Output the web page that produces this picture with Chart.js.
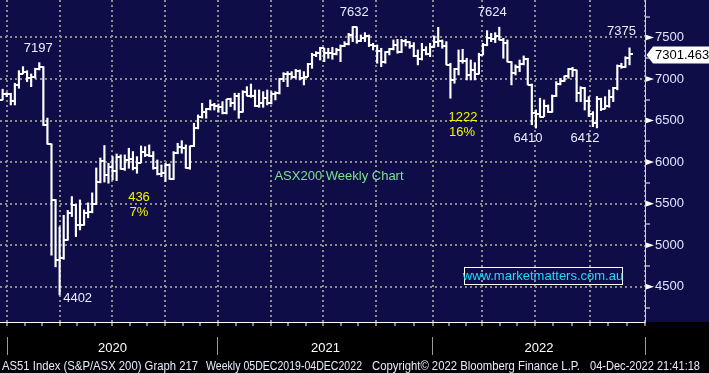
<!DOCTYPE html>
<html>
<head>
<meta charset="utf-8">
<script src="https://cdn.jsdelivr.net/npm/chart.js@4.4.0/dist/chart.umd.min.js"></script>
<style>
  html, body { margin: 0; padding: 0; background: #000; }
</style>
</head>
<body>
<canvas id="asxChart" width="709" height="373"></canvas>
<script>
// ASX200 weekly bars, week 1 = 13 Dec 2019 ... week 156 = 2 Dec 2022
const opens = [
  6700, 6750, 6817, 6821, 6740, 6929, 7065, 7090, 7017, 7022,
  7125, 7139, 6441, 6217, 5539, 4817, 4842, 5068, 5387, 5488,
  5242, 5245, 5391, 5405, 5498, 5755, 6010, 5847, 5942, 5897,
  6066, 5914, 6026, 6035, 5930, 5994, 6127, 6087, 6074, 5926,
  5858, 5866, 5966, 5794, 6107, 6186, 6174, 5926, 6190, 6405,
  6539, 6601, 6635, 6683, 6675, 6664, 6587, 6757, 6715, 6800,
  6607, 6841, 6800, 6793, 6673, 6711, 6767, 6708, 6824, 6829,
  6996, 7063, 7061, 7025, 7095, 7015, 7030, 7179, 7295, 7312,
  7369, 7308, 7308, 7304, 7348, 7394, 7420, 7530, 7628, 7460,
  7488, 7523, 7406, 7403, 7342, 7200, 7320, 7363, 7415, 7324,
  7457, 7443, 7396, 7279, 7241, 7353, 7304, 7387, 7445, 7453,
  7393, 7174, 6988, 7120, 7217, 7221, 7049, 7110, 7064, 7295,
  7406, 7499, 7478, 7523, 7473, 7435, 7205, 7075, 7146, 7182,
  7238, 6932, 6591, 6578, 6548, 6675, 6605, 6792, 6945, 6975,
  7033, 7115, 7105, 6828, 6894, 6739, 6574, 6474, 6762, 6645,
  6677, 6786, 6892, 7158, 7142, 7259
];
const highs = [
  6770, 6877, 6836, 6829, 6949, 7101, 7149, 7100, 7061, 7130,
  7197, 7150, 6530, 6220, 5550, 5220, 5360, 5420, 5585, 5490,
  5545, 5425, 5510, 5630, 5930, 6050, 6200, 5987, 6066, 6098,
  6087, 6087, 6167, 6127, 6066, 6195, 6186, 6207, 6127, 6026,
  5966, 5986, 5978, 6127, 6227, 6258, 6207, 6195, 6468, 6568,
  6708, 6648, 6748, 6708, 6700, 6728, 6757, 6770, 6829, 6829,
  6860, 6908, 6940, 6868, 6868, 6848, 6868, 6848, 6848, 7009,
  7077, 7089, 7089, 7117, 7109, 7089, 7189, 7310, 7330, 7382,
  7370, 7370, 7382, 7370, 7410, 7450, 7550, 7632, 7628, 7530,
  7558, 7530, 7430, 7410, 7370, 7330, 7370, 7470, 7478, 7478,
  7478, 7450, 7438, 7350, 7430, 7390, 7430, 7518, 7622, 7470,
  7450, 7190, 7129, 7350, 7358, 7250, 7229, 7197, 7310, 7430,
  7582, 7550, 7558, 7624, 7490, 7470, 7209, 7170, 7229, 7278,
  7250, 6940, 6628, 6769, 6748, 6688, 6808, 6969, 7009, 7037,
  7129, 7141, 7109, 6908, 6900, 6788, 6608, 6790, 6770, 6788,
  6868, 6900, 7170, 7190, 7269, 7375
];
const lows = [
  6690, 6748, 6788, 6688, 6688, 6889, 7061, 6969, 6908, 7010,
  7109, 6440, 6215, 4880, 4740, 4402, 4830, 5060, 5345, 5104,
  5184, 5240, 5330, 5390, 5490, 5750, 5760, 5746, 5786, 5777,
  5914, 5900, 5926, 5906, 5866, 5990, 6066, 6066, 5914, 5846,
  5825, 5766, 5794, 5790, 6100, 6107, 5926, 5914, 6186, 6400,
  6530, 6528, 6627, 6627, 6600, 6580, 6580, 6668, 6627, 6528,
  6600, 6796, 6780, 6668, 6660, 6660, 6688, 6700, 6748, 6820,
  6969, 6908, 7009, 7009, 6989, 6929, 7029, 7129, 7269, 7229,
  7209, 7250, 7238, 7290, 7209, 7390, 7410, 7450, 7430, 7450,
  7450, 7390, 7350, 7190, 7149, 7190, 7290, 7350, 7310, 7317,
  7398, 7370, 7269, 7170, 7229, 7290, 7269, 7380, 7390, 7370,
  7170, 6769, 6949, 7049, 7190, 6989, 6989, 6989, 7060, 7290,
  7400, 7450, 7438, 7470, 7250, 7205, 6929, 7049, 7089, 7170,
  6929, 6450, 6410, 6540, 6548, 6596, 6600, 6790, 6929, 6970,
  7009, 7029, 6728, 6728, 6627, 6548, 6427, 6412, 6620, 6640,
  6660, 6728, 6870, 7129, 7140, 7170
];
const closes = [
  6750, 6817, 6821, 6740, 6929, 7065, 7090, 7017, 7022, 7125,
  7139, 6441, 6217, 5539, 4817, 4842, 5068, 5387, 5488, 5242,
  5245, 5391, 5405, 5498, 5755, 6010, 5847, 5942, 5897, 6066,
  5914, 6026, 6035, 5930, 5994, 6127, 6087, 6074, 5926, 5858,
  5866, 5966, 5794, 6107, 6186, 6174, 5926, 6190, 6405, 6539,
  6601, 6635, 6683, 6675, 6664, 6587, 6757, 6715, 6800, 6607,
  6841, 6800, 6793, 6673, 6711, 6767, 6708, 6824, 6829, 6996,
  7063, 7061, 7025, 7095, 7015, 7030, 7179, 7295, 7312, 7369,
  7308, 7308, 7304, 7348, 7394, 7420, 7530, 7628, 7460, 7488,
  7523, 7406, 7403, 7342, 7200, 7320, 7363, 7415, 7324, 7457,
  7443, 7396, 7279, 7241, 7353, 7304, 7387, 7445, 7453, 7393,
  7174, 6988, 7120, 7217, 7221, 7049, 7110, 7064, 7295, 7406,
  7499, 7478, 7523, 7473, 7435, 7205, 7075, 7146, 7182, 7238,
  6932, 6591, 6578, 6548, 6675, 6605, 6792, 6945, 6975, 7033,
  7115, 7105, 6828, 6894, 6739, 6574, 6474, 6762, 6645, 6677,
  6786, 6892, 7158, 7142, 7259, 7301.463
];
const weeks = closes.map((_, i) => i + 1);

// axis ticks (in weeks for x)
const quarterWeeks = [3.1, 16.1, 28.9, 41.9, 54.9, 67.9, 80.7, 93.7, 107.7, 119.8, 132.8, 146.3];
const yearTicks = [3.1, 29.0, 54.9, 81.3, 107.7, 133.75, 159.8];
const yearLabels = ['2020', '2021', '2022'];
const yTickValues = [4250, 4500, 4750, 5000, 5250, 5500, 5750, 6000, 6250, 6500, 6750, 7000, 7250, 7500, 7750];

const peakLabels = [
  { text: '7197', week: 11, value: 7197, dx: -1, dy: -14 },
  { text: '4402', week: 16, value: 4402, dx: 18, dy: 4 },
  { text: '7632', week: 88, value: 7632, dx: 1.5, dy: -14.5 },
  { text: '7624', week: 124, value: 7624, dx: -7, dy: -14.5 },
  { text: '6410', week: 133, value: 6410, dx: -8, dy: 10.5 },
  { text: '6412', week: 148, value: 6412, dx: -12, dy: 10.5 },
  { text: '7375', week: 156, value: 7375, dx: -8, dy: -16.5 }
];

const X_MIN = 1.35, X_MAX = 159.8;
const Y_MIN = 4076, Y_MAX = 7951;
const NAVY = '#0f0d48';
const GRID = '#8c8c8c';
const FONT = '"Liberation Sans", Arial, sans-serif';

// monthly ticks: thirds between quarter lines
const monthTicks = [];
quarterWeeks.forEach((q, i) => {
  const next = i < quarterWeeks.length - 1 ? quarterWeeks[i + 1] : X_MAX;
  const d = (next - q) / 3;
  monthTicks.push(q, q + d, q + 2 * d);
});
monthTicks.push(X_MAX);

function noPadding(axis) {
  axis.paddingLeft = 0;
  axis.paddingRight = 0;
  axis.paddingTop = 0;
  axis.paddingBottom = 0;
}

function tickImage(side) {
  const c = document.createElement('canvas');
  c.width = 6; c.height = 2;
  const g = c.getContext('2d');
  g.fillStyle = '#ffffff';
  g.fillRect(side === 'left' ? 0 : 3, 0, 3, 2);
  return c;
}

const backdrop = {
  id: 'backdrop',
  beforeDraw(chart) {
    const { ctx, chartArea } = chart;
    ctx.save();
    ctx.fillStyle = '#000000';
    ctx.fillRect(0, 0, chart.width, chart.height);
    ctx.fillStyle = NAVY;
    ctx.fillRect(0, 0, chart.width, chartArea.bottom);
    ctx.restore();
  }
};

const overlays = {
  id: 'overlays',
  afterDraw(chart) {
    const { ctx, chartArea, scales } = chart;
    const xs = scales.x, ys = scales.y;
    ctx.save();

    // triangles on major y ticks
    ctx.fillStyle = '#ffffff';
    yTickValues.filter(v => v % 500 === 0).forEach(v => {
      const y = ys.getPixelForValue(v);
      ctx.beginPath();
      ctx.moveTo(chartArea.right + 1, y - 2.8);
      ctx.lineTo(chartArea.right + 9, y);
      ctx.lineTo(chartArea.right + 1, y + 2.8);
      ctx.closePath();
      ctx.fill();
    });

    // peak / trough labels
    ctx.font = '13px ' + FONT;
    ctx.textAlign = 'center';
    ctx.textBaseline = 'middle';
    ctx.fillStyle = '#e8eeff';
    peakLabels.forEach(p => {
      ctx.fillText(p.text, xs.getPixelForValue(p.week) + p.dx, ys.getPixelForValue(p.value) + p.dy);
    });

    // move annotations
    ctx.fillStyle = '#f4f400';
    ctx.fillText('436', 139, 197);
    ctx.fillText('7%', 139, 212);
    ctx.fillText('1222', 463, 117);
    ctx.fillText('16%', 462, 132);

    ctx.fillStyle = '#7ee08c';
    ctx.fillText('ASX200 Weekly Chart', 339, 176);

    // website box
    ctx.strokeStyle = '#ffffff';
    ctx.lineWidth = 1;
    ctx.strokeRect(464.5, 267.5, 158, 17);
    ctx.fillStyle = '#1fdcf5';
    ctx.fillText('www.marketmatters.com.au', 543, 276.5);

    // last value tag
    const last = closes[closes.length - 1];
    const ty = ys.getPixelForValue(last);
    ctx.fillStyle = '#ffffff';
    ctx.beginPath();
    ctx.moveTo(chartArea.right + 1.5, ty + 1);
    ctx.lineTo(chartArea.right + 8, ty - 7.5);
    ctx.lineTo(chart.width, ty - 7.5);
    ctx.lineTo(chart.width, ty + 9.5);
    ctx.lineTo(chartArea.right + 8, ty + 9.5);
    ctx.closePath();
    ctx.fill();
    ctx.fillStyle = '#000000';
    ctx.textAlign = 'left';
    ctx.fillText(last.toFixed(3), chartArea.right + 10, ty + 1.5);

    // footer line
    const parts = [
      { text: 'AS51 Index (S&P/ASX 200) Graph 217', x0: 2, x1: 198 },
      { text: 'Weekly 05DEC2019-04DEC2022', x0: 206, x1: 362 },
      { text: 'Copyright\u00A9 2022 Bloomberg Finance L.P.', x0: 372, x1: 580 },
      { text: '04-Dec-2022 21:41:18', x0: 590, x1: 700 }
    ];
    ctx.font = '12px ' + FONT;
    ctx.textBaseline = 'alphabetic';
    ctx.fillStyle = '#e6ecff';
    parts.forEach(p => {
      const w = ctx.measureText(p.text).width;
      ctx.save();
      ctx.translate(p.x0, 370);
      ctx.scale((p.x1 - p.x0) / w, 1);
      ctx.fillText(p.text, 0, 0);
      ctx.restore();
    });
    ctx.restore();
  }
};

new Chart(document.getElementById('asxChart').getContext('2d'), {
  type: 'bar',
  data: {
    datasets: [
      {
        type: 'bar',
        data: weeks.map((w, i) => ({ x: w, y: [lows[i], highs[i]] })),
        backgroundColor: '#ffffff',
        borderWidth: 0,
        barThickness: 1.5
      },
      {
        type: 'line',
        data: weeks.map((w, i) => ({ x: w, y: opens[i] })),
        showLine: false,
        pointStyle: tickImage('left'),
        pointRadius: 3
      },
      {
        type: 'line',
        data: weeks.map((w, i) => ({ x: w, y: closes[i] })),
        showLine: false,
        pointStyle: tickImage('right'),
        pointRadius: 3
      }
    ]
  },
  options: {
    responsive: false,
    animation: false,
    events: [],
    layout: { padding: 0, autoPadding: false },
    plugins: { legend: { display: false }, tooltip: { enabled: false } },
    scales: {
      x: {
        type: 'linear', min: X_MIN, max: X_MAX, offset: false, position: 'bottom', weight: 0,
        afterBuildTicks: axis => { axis.ticks = monthTicks.map(v => ({ value: v })); },
        afterFit: axis => { axis.height = 15; noPadding(axis); },
        ticks: { display: false, autoSkip: false },
        grid: {
          offset: false,
          color: c => (c.index % 3 === 0 ? GRID : 'transparent'),
          lineWidth: 2,
          tickColor: '#ffffff', tickLength: 4, tickWidth: 1
        },
        border: { display: true, color: '#ffffff', width: 1, dash: [2, 3] }
      },
      x2: {
        type: 'linear', min: X_MIN, max: X_MAX, offset: false, position: 'bottom', weight: 1,
        afterBuildTicks: axis => { axis.ticks = yearTicks.map(v => ({ value: v })); },
        afterFit: axis => { axis.height = 36; noPadding(axis); },
        ticks: {
          autoSkip: false, maxRotation: 0, padding: -14, color: '#ffffff',
          font: { family: FONT, size: 13 },
          callback: (v, i) => (i % 2 === 1 ? yearLabels[(i - 1) / 2] : '')
        },
        grid: {
          offset: false, drawOnChartArea: false, tickLength: 18, tickWidth: 1,
          tickColor: c => (c.index % 2 === 0 ? '#9a9a9a' : 'transparent')
        },
        border: { display: false }
      },
      y: {
        type: 'linear', position: 'right', min: Y_MIN, max: Y_MAX, beginAtZero: false,
        afterBuildTicks: axis => { axis.ticks = yTickValues.map(v => ({ value: v })); },
        afterFit: axis => { axis.width = 64; noPadding(axis); },
        ticks: {
          autoSkip: false, padding: 5, color: '#dfe6ff',
          font: { family: FONT, size: 13 },
          callback: v => (v % 500 === 0 ? String(v) : '')
        },
        grid: {
          color: c => (c.tick && c.tick.value % 500 === 0 ? GRID : 'transparent'),
          lineWidth: 2, tickLength: 5, tickWidth: 1,
          tickColor: c => (c.tick && c.tick.value % 500 === 0 ? 'transparent' : '#ffffff')
        },
        border: { display: true, color: '#cfcfcf', width: 1, dash: [2, 3] }
      }
    }
  },
  plugins: [backdrop, overlays]
});
</script>
</body>
</html>
